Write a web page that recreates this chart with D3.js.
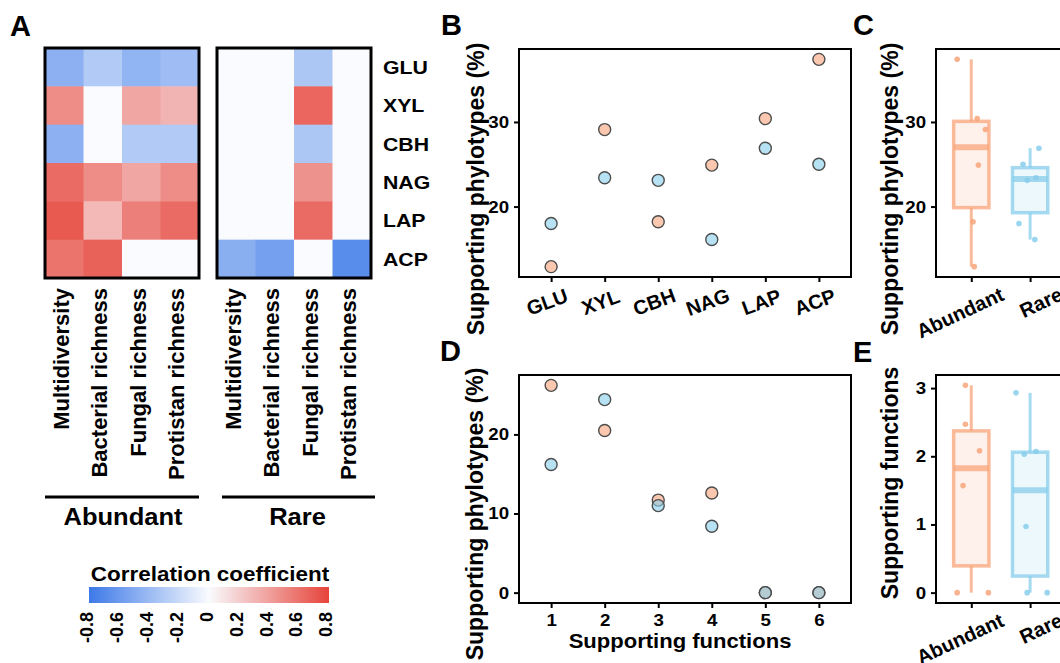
<!DOCTYPE html>
<html>
<head>
<meta charset="utf-8">
<script src="https://cdn.jsdelivr.net/npm/d3@7"></script>
<style>
  body { margin: 0; background: #fff; }
  text { font-family: "Liberation Sans", Arial, Helvetica, sans-serif; font-weight: bold; fill: #000; }
</style>
</head>
<body>
<svg id="fig" width="1060" height="663"></svg>
<script>
// ---- data ----
const enzymes = ['GLU', 'XYL', 'CBH', 'NAG', 'LAP', 'ACP'];
const diversity = ['Multidiversity', 'Bacterial richness', 'Fungal richness', 'Protistan richness'];
const groups = ['Abundant', 'Rare'];

// correlation coefficients (rows = enzymes, columns = diversity)
const corAbundant = [
  [-0.46, -0.30, -0.44, -0.38],
  [ 0.48,  0.00,  0.37,  0.31],
  [-0.46,  0.00, -0.30, -0.30],
  [ 0.63,  0.48,  0.37,  0.48],
  [ 0.71,  0.29,  0.54,  0.63],
  [ 0.59,  0.67,  0.00,  0.00]
];
const corRare = [
  [ 0.00,  0.00, -0.32,  0.00],
  [ 0.00,  0.00,  0.65,  0.00],
  [ 0.00,  0.00, -0.32,  0.00],
  [ 0.00,  0.00,  0.46,  0.00],
  [ 0.00,  0.00,  0.63,  0.00],
  [-0.47, -0.56,  0.00, -0.68]
];
const legendTicks = [-0.8, -0.6, -0.4, -0.2, 0, 0.2, 0.4, 0.6, 0.8];

// supporting phylotypes (%) per enzyme
const phyloAbundant = [12.9, 29.1, 18.2, 24.9, 30.4, 37.4];
const phyloRare = [18.0, 23.4, 23.1, 16.1, 26.9, 25.0];

// supporting phylotypes (%) per number of supporting functions
const nFunctions = ['1', '2', '3', '4', '5', '6'];
const funcAbundant = [26.2, 20.5, 11.7, 12.6, 0, 0];
const funcRare = [16.2, 24.4, 11.0, 8.4, 0, 0];

// supporting functions
const supportAbundant = [3.04, 2.47, 2.08, 1.57, 0, 0];
const supportRare = [2.93, 2.07, 2.03, 0.97, 0, 0];

// horizontal jitter of the points (in category steps)
const jitterPhyloAbundant = [0.05, 0.24, 0.03, 0.12, 0.10, -0.24];
const jitterPhyloRare = [-0.19, 0.10, -0.05, 0.08, 0.15, -0.12];
const jitterSupportAbundant = [-0.10, -0.10, 0.14, -0.14, -0.24, 0.29];
const jitterSupportRare = [-0.24, 0.10, -0.10, -0.07, -0.05, 0.29];

const orange = '#F8A47A', blue = '#87CEEB';

const svg = d3.select('#fig');

function addText(parent, txt, x, y, o) {
  o = o || {};
  let tr = `translate(${x},${y})`;
  if (o.rotate) tr += ` rotate(${o.rotate})`;
  if (o.sx) tr += ` scale(${o.sx},1)`;
  return parent.append('text')
    .attr('transform', tr)
    .attr('font-size', o.size || 20)
    .attr('text-anchor', o.anchor || 'start')
    .attr('dy', o.dy || 0)
    .text(txt);
}

// ---- A: heatmaps ----
const heatColor = d3.scaleLinear()
  .domain([-0.8, 0, 0.8])
  .range(['#3C79E8', '#F9FBFE', '#E6443A'])
  .clamp(true);

const yHeat = d3.scaleBand().domain(enzymes).range([48, 278]);
const heatPanels = [
  { mat: corAbundant, x0: 45, x1: 199 },
  { mat: corRare, x0: 217, x1: 371 }
];

heatPanels.forEach(p => {
  const x = d3.scaleBand().domain(diversity).range([p.x0, p.x1]);
  const cells = [];
  p.mat.forEach((row, r) => row.forEach((v, c) => cells.push({ enz: enzymes[r], div: diversity[c], v: v })));
  svg.append('g').selectAll('rect')
    .data(cells)
    .join('rect')
    .attr('x', d => x(d.div))
    .attr('y', d => yHeat(d.enz))
    .attr('width', x.bandwidth() + 0.5)
    .attr('height', yHeat.bandwidth() + 0.5)
    .attr('fill', d => heatColor(d.v));
  svg.append('rect')
    .attr('x', p.x0).attr('y', 48)
    .attr('width', p.x1 - p.x0).attr('height', 230)
    .attr('fill', 'none').attr('stroke', '#000').attr('stroke-width', 3);
  diversity.forEach(d => {
    addText(svg, d, x(d) + x.bandwidth() / 2 - 3, 288, { size: 22, anchor: 'end', rotate: -90, dy: '0.35em' });
  });
});

enzymes.forEach(e => {
  addText(svg, e, 383, yHeat(e) + yHeat.bandwidth() / 2, { size: 19, sx: 1.12, dy: '0.36em' });
});

// group bars under the heatmaps
const groupBars = [[45, 199], [222, 375]];
groups.forEach((g, i) => {
  const [a, b] = groupBars[i];
  svg.append('line').attr('x1', a).attr('x2', b).attr('y1', 497).attr('y2', 497)
    .attr('stroke', '#000').attr('stroke-width', 3);
  addText(svg, g, (a + b) / 2 - (i ? 1 : -1) * 1, 525, { size: 23, sx: 1.11, anchor: 'middle' });
});

// legend
addText(svg, 'Correlation coefficient', 210, 581, { size: 21, sx: 1.07, anchor: 'middle' });
const xLeg = d3.scaleLinear().domain([-0.8, 0.8]).range([87, 326]);
const grad = svg.append('defs').append('linearGradient').attr('id', 'corgrad');
d3.range(0, 1.0001, 0.05).forEach(t => {
  grad.append('stop').attr('offset', t).attr('stop-color', heatColor(-0.8 + 1.6 * t));
});
svg.append('rect').attr('x', 89).attr('y', 587).attr('width', 240).attr('height', 16)
  .attr('fill', 'url(#corgrad)');
legendTicks.forEach(t => {
  addText(svg, t === 0 ? '0' : t.toFixed(1), xLeg(t), 612, { size: 18, anchor: 'end', rotate: -90, dy: '0.35em' });
});

// ---- helpers for the right-hand panels ----
function styleAxis(g, size, sx) {
  g.attr('font-family', null).attr('font-size', null);
  g.select('.domain').remove();
  g.selectAll('.tick line').attr('stroke', '#000').attr('stroke-width', 2);
  g.selectAll('.tick text').attr('font-size', size).attr('fill', '#000');
  if (sx) g.selectAll('.tick text').attr('transform', `scale(${sx},1)`);
}

function frame(x0, x1, y0, y1) {
  svg.append('rect').attr('x', x0).attr('y', y0).attr('width', x1 - x0).attr('height', y1 - y0)
    .attr('fill', 'none').attr('stroke', '#000').attr('stroke-width', 2);
}

function padDomain(vals) {
  const [lo, hi] = d3.extent(vals);
  const pad = (hi - lo) * 0.05;
  return [lo - pad, hi + pad];
}

function drawPoints(x, y, cats, vals, col) {
  svg.append('g').selectAll('circle')
    .data(vals)
    .join('circle')
    .attr('cx', (d, i) => x(cats[i]))
    .attr('cy', d => y(d))
    .attr('r', 6)
    .attr('fill', col)
    .attr('fill-opacity', 0.6)
    .attr('stroke', '#4d4d4d')
    .attr('stroke-width', 1.4);
}

function drawBox(x, y, cat, vals, jit, col) {
  const s = vals.slice().sort(d3.ascending);
  const q1 = d3.quantile(s, 0.25), med = d3.quantile(s, 0.5), q3 = d3.quantile(s, 0.75);
  const iqr = q3 - q1;
  const lo = d3.min(s.filter(v => v >= q1 - 1.5 * iqr));
  const hi = d3.max(s.filter(v => v <= q3 + 1.5 * iqr));
  const cx = x(cat), w = x.step() * 0.6;
  const g = svg.append('g');
  g.append('line').attr('x1', cx).attr('x2', cx).attr('y1', y(q3)).attr('y2', y(hi))
    .attr('stroke', col).attr('stroke-opacity', 0.75).attr('stroke-width', 3);
  g.append('line').attr('x1', cx).attr('x2', cx).attr('y1', y(q1)).attr('y2', y(lo))
    .attr('stroke', col).attr('stroke-opacity', 0.75).attr('stroke-width', 3);
  g.append('rect').attr('x', cx - w / 2).attr('y', y(q3)).attr('width', w).attr('height', y(q1) - y(q3))
    .attr('fill', col).attr('fill-opacity', 0.15)
    .attr('stroke', col).attr('stroke-opacity', 0.75).attr('stroke-width', 3.5);
  g.append('line').attr('x1', cx - w / 2).attr('x2', cx + w / 2).attr('y1', y(med)).attr('y2', y(med))
    .attr('stroke', col).attr('stroke-opacity', 0.75).attr('stroke-width', 6);
  g.selectAll('circle.j')
    .data(vals)
    .join('circle')
    .attr('class', 'j')
    .attr('cx', (d, i) => cx + jit[i] * x.step())
    .attr('cy', d => y(d))
    .attr('r', 2.8)
    .attr('fill', col)
    .attr('fill-opacity', 0.85);
}

// ---- B: supporting phylotypes per enzyme ----
const xB = d3.scalePoint().domain(enzymes).range([519, 851]).padding(0.6);
const yB = d3.scaleLinear().domain(padDomain(phyloAbundant.concat(phyloRare))).range([277, 49]);
drawPoints(xB, yB, enzymes, phyloAbundant, orange);
drawPoints(xB, yB, enzymes, phyloRare, blue);
frame(519, 851, 49, 277);
styleAxis(svg.append('g').attr('transform', 'translate(519,0)')
  .call(d3.axisLeft(yB).tickValues([20, 30]).tickSize(5).tickPadding(4)), 17, 1.1);
styleAxis(svg.append('g').attr('transform', 'translate(0,277)')
  .call(d3.axisBottom(xB).tickSize(5).tickFormat('')), 17);
enzymes.forEach(e => addText(svg, e, xB(e) - 4, 302, { size: 20, anchor: 'middle', rotate: -20, dy: '0.35em' }));
addText(svg, 'Supporting phylotypes (%)', 476, 189, { size: 23, anchor: 'middle', rotate: -90, dy: '0.35em' });

// ---- C: boxplots of supporting phylotypes ----
const xC = d3.scalePoint().domain(groups).range([936, 1065.4]).padding(0.6);
drawBox(xC, yB, 'Abundant', phyloAbundant, jitterPhyloAbundant, orange);
drawBox(xC, yB, 'Rare', phyloRare, jitterPhyloRare, blue);
frame(936, 1065.4, 49, 277);
styleAxis(svg.append('g').attr('transform', 'translate(936,0)')
  .call(d3.axisLeft(yB).tickValues([20, 30]).tickSize(5).tickPadding(4)), 17, 1.1);
styleAxis(svg.append('g').attr('transform', 'translate(0,277)')
  .call(d3.axisBottom(xC).tickSize(5).tickFormat('')), 17);
groups.forEach(g => addText(svg, g, xC(g) + 31, 293, { size: 20, anchor: 'end', rotate: -25, dy: '0.35em' }));
addText(svg, 'Supporting phylotypes (%)', 890, 189, { size: 23, anchor: 'middle', rotate: -90, dy: '0.35em' });

// ---- D: supporting phylotypes per number of functions ----
const xD = d3.scalePoint().domain(nFunctions).range([519, 851]).padding(0.6);
const yD = d3.scaleLinear().domain(padDomain(funcAbundant.concat(funcRare))).range([603, 375]);
drawPoints(xD, yD, nFunctions, funcAbundant, orange);
drawPoints(xD, yD, nFunctions, funcRare, blue);
frame(519, 851, 375, 603);
styleAxis(svg.append('g').attr('transform', 'translate(519,0)')
  .call(d3.axisLeft(yD).tickValues([0, 10, 20]).tickSize(5).tickPadding(4)), 17, 1.1);
styleAxis(svg.append('g').attr('transform', 'translate(0,603)')
  .call(d3.axisBottom(xD).tickSize(5).tickPadding(6)), 17, 1.1);
addText(svg, 'Supporting functions', 680, 648, { size: 21, sx: 1.05, anchor: 'middle' });
addText(svg, 'Supporting phylotypes (%)', 475, 514, { size: 23, anchor: 'middle', rotate: -90, dy: '0.35em' });

// ---- E: boxplots of supporting functions ----
const yE = d3.scaleLinear().domain(padDomain(supportAbundant.concat(supportRare))).range([603, 375]);
drawBox(xC, yE, 'Abundant', supportAbundant, jitterSupportAbundant, orange);
drawBox(xC, yE, 'Rare', supportRare, jitterSupportRare, blue);
frame(936, 1065.4, 375, 603);
styleAxis(svg.append('g').attr('transform', 'translate(936,0)')
  .call(d3.axisLeft(yE).tickValues([0, 1, 2, 3]).tickFormat(d3.format('d')).tickSize(5).tickPadding(4)), 17, 1.1);
styleAxis(svg.append('g').attr('transform', 'translate(0,603)')
  .call(d3.axisBottom(xC).tickSize(5).tickFormat('')), 17);
groups.forEach(g => addText(svg, g, xC(g) + 31, 619, { size: 20, anchor: 'end', rotate: -25, dy: '0.35em' }));
addText(svg, 'Supporting functions', 890, 483, { size: 23, anchor: 'middle', rotate: -90, dy: '0.35em' });

// ---- panel letters ----
const panelLetters = ['A', 'B', 'C', 'D', 'E'];
const letterPos = [[10, 36], [441, 35], [853, 35], [440, 361], [853, 362]];
panelLetters.forEach((l, i) => addText(svg, l, letterPos[i][0], letterPos[i][1], { size: 29 }));
</script>
</body>
</html>
